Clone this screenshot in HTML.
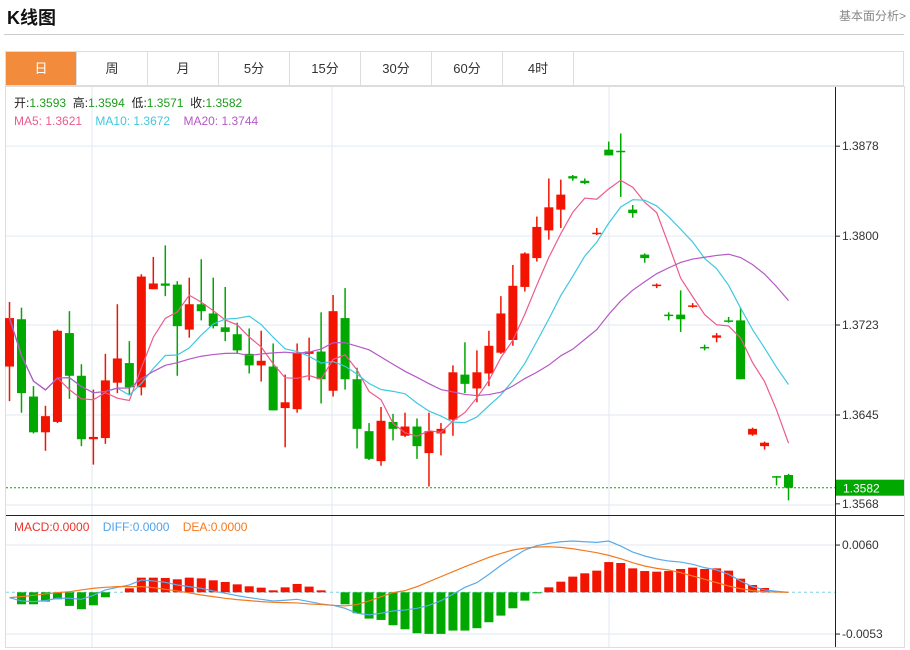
<!DOCTYPE html>
<html><head><meta charset="utf-8">
<style>
body{margin:0;background:#fff;width:910px;height:650px;overflow:hidden;font-family:"Liberation Sans","Noto Sans CJK SC",sans-serif;}
#title{position:absolute;left:7px;top:4px;font-size:18px;font-weight:bold;color:#111;}
#more{position:absolute;right:4px;top:7px;font-size:12px;color:#888;}
#hr{position:absolute;left:4px;right:6px;top:34px;height:1px;background:#ccc;}
#tabs{position:absolute;left:5px;top:51px;width:899px;height:35px;border:1px solid #ddd;box-sizing:border-box;display:flex;}
.tab{width:70px;height:33px;line-height:33px;text-align:center;font-size:13px;color:#333;border-right:1px solid #ddd;}
.tab.on{background:#f28c3c;color:#fff;}
svg{position:absolute;left:0;top:0;}
</style></head><body>
<div id="title">K线图</div>
<div id="more">基本面分析&gt;</div>
<div id="hr"></div>
<div id="tabs">
<div class="tab on">日</div>
<div class="tab">周</div>
<div class="tab">月</div>
<div class="tab">5分</div>
<div class="tab">15分</div>
<div class="tab">30分</div>
<div class="tab">60分</div>
<div class="tab">4时</div>
</div>
<svg id="chart" width="910" height="650"></svg>
<script>
const opens=[1.3687,1.3728,1.3661,1.3630,1.3639,1.3716,1.3679,1.3624,1.3625,1.3673,1.3690,1.3669,1.3754,1.3759,1.3758,1.3719,1.3741,1.3733,1.3721,1.3715,1.3698,1.3688,1.3687,1.3651,1.3650,1.3698,1.3700,1.3666,1.3729,1.3676,1.3631,1.3605,1.3639,1.3627,1.3635,1.3612,1.3629,1.3641,1.3680,1.3668,1.3681,1.3699,1.3710,1.3756,1.3781,1.3805,1.3823,1.3852,1.3848,1.3802,1.3875,1.3874,1.3823,1.3784,1.3757,1.3732,1.3732,1.3739,1.3704,1.3712,1.3727,1.3727,1.3628,1.3618,1.3592,1.3593];
const closes=[1.3729,1.3664,1.3630,1.3644,1.3718,1.3679,1.3624,1.3626,1.3675,1.3694,1.3669,1.3765,1.3759,1.3757,1.3722,1.3741,1.3735,1.3722,1.3717,1.3701,1.3688,1.3692,1.3649,1.3656,1.3699,1.3700,1.3676,1.3735,1.3676,1.3633,1.3607,1.3640,1.3633,1.3635,1.3618,1.3631,1.3633,1.3682,1.3672,1.3682,1.3705,1.3733,1.3757,1.3785,1.3808,1.3825,1.3836,1.3850,1.3846,1.3803,1.3870,1.3873,1.3820,1.3781,1.3758,1.3731,1.3728,1.3740,1.3703,1.3714,1.3726,1.3676,1.3633,1.3621,1.3591,1.3582];
const highs=[1.3743,1.3738,1.3670,1.3653,1.3719,1.3735,1.3689,1.3667,1.3698,1.3741,1.3709,1.3767,1.3782,1.3792,1.3761,1.3764,1.3780,1.3764,1.3756,1.3725,1.3720,1.3718,1.3707,1.3680,1.3707,1.3712,1.3734,1.3749,1.3755,1.3686,1.3638,1.3652,1.3646,1.3647,1.3642,1.3647,1.3638,1.3688,1.3708,1.3701,1.3718,1.3748,1.3775,1.3786,1.3817,1.3850,1.3849,1.3853,1.3850,1.3807,1.3882,1.3889,1.3827,1.3785,1.3759,1.3734,1.3753,1.3742,1.3706,1.3716,1.3730,1.3738,1.3634,1.3622,1.3592,1.3594];
const lows=[1.3657,1.3647,1.3629,1.3614,1.3638,1.3659,1.3618,1.3602,1.3620,1.3664,1.3662,1.3662,1.3754,1.3748,1.3679,1.3712,1.3727,1.3720,1.3709,1.3698,1.3681,1.3674,1.3649,1.3617,1.3647,1.3675,1.3655,1.3661,1.3667,1.3616,1.3606,1.3601,1.3623,1.3626,1.3607,1.3583,1.3610,1.3627,1.3664,1.3656,1.3670,1.3698,1.3705,1.3752,1.3778,1.3797,1.3807,1.3848,1.3845,1.3801,1.3870,1.3834,1.3816,1.3777,1.3755,1.3727,1.3717,1.3738,1.3701,1.3708,1.3725,1.3676,1.3627,1.3615,1.3584,1.3571];
// MACD panel values, in units of 0.0001
const macdHist=[0,-15.2,-15.2,-11.8,-8.9,-17.3,-21.5,-16.5,-6.3,0,5.1,18.6,18.6,18.2,16.5,18.6,17.7,15.2,13.1,10.1,7.6,5.9,2.5,6.3,10.6,7.2,2.5,0,-15.2,-26.6,-33.4,-35.1,-41.8,-46.9,-52.0,-52.8,-52.8,-48.6,-48.6,-45.6,-38.0,-29.6,-20.3,-10.6,-1.3,6.3,13.5,19.9,24.1,27.5,38.4,37.2,30.4,27.0,26.2,27.0,29.6,31.3,29.6,30.4,27.5,17.3,9.3,5.5,0.8,0];
const diffVals=[-6.8,-11.0,-11.8,-10.6,-7.6,-7.6,-8.9,-3.8,3.0,6.3,9.3,15.6,14.4,12.7,9.3,7.2,5.1,1.7,-1.3,-4.2,-6.8,-8.9,-11.0,-10.1,-8.9,-11.8,-14.8,-16.5,-20.3,-26.6,-28.7,-26.6,-23.7,-22.4,-20.3,-16.5,-10.6,-2.5,6.3,12.3,22.8,34.2,44.4,53.7,59.2,62.1,64.2,65.1,64.2,63.4,65.1,58.7,51.1,46.1,42.3,39.7,38.4,35.5,31.3,28.3,22.8,14.4,7.2,3.0,1.3,0];
const deaVals=[-6.8,-5.5,-3.8,-2.1,-0.4,0.8,3.0,5.1,6.3,7.2,7.2,7.2,5.9,3.8,1.7,-0.8,-3.4,-5.5,-7.6,-9.3,-10.6,-11.8,-12.7,-13.1,-13.5,-14.8,-15.6,-16.5,-17.3,-15.6,-11.0,-5.5,-0.4,2.1,7.2,13.5,19.9,26.2,32.5,38.4,44.4,49.4,53.7,56.2,57.5,57.9,57.0,55.3,52.8,50.3,46.9,42.7,37.6,33.4,30.4,28.3,24.9,20.7,16.5,12.3,8.0,4.6,2.1,0.8,0.4,0];
const priceTicks=[1.3878,1.3800,1.3723,1.3645,1.3568];
const macdTicks=[0.0060,-0.0053];
const gridX=[92,332,609];

const NS="http://www.w3.org/2000/svg";
const svg=document.getElementById('chart');
function mk(tag,attrs,parent){const e=document.createElementNS(NS,tag);for(const k in attrs)e.setAttribute(k,attrs[k]);(parent||svg).appendChild(e);return e;}
const X0=9.5,DX=11.985;
const xS=i=>X0+i*DX;
const yP=p=>415-(p-1.3645)*11538;
const yM=v=>592.3-v*7876;
const RED="#f21400",GRN="#00a800";

// frame
let fr=mk('rect',{x:5.5,y:86.5,width:899,height:561,fill:'none',stroke:'#ddd'});


// grids
const gg=mk('g',{});


gridX.forEach(x=>{mk('line',{x1:x,x2:x,y1:87,y2:647,stroke:'#e1e9f0'},gg);});
priceTicks.slice(0,4).forEach(p=>{mk('line',{x1:6,x2:835,y1:yP(p),y2:yP(p),stroke:'#e1e9f0'},gg);});
macdTicks.forEach(v=>{mk('line',{x1:6,x2:835,y1:yM(v),y2:yM(v),stroke:'#e1e9f0'},gg);});
mk('line',{x1:6,x2:835,y1:505,y2:505,stroke:'#e1e9f0'},gg);
// axes
let ax=mk('line',{x1:835.5,x2:835.5,y1:87,y2:647,stroke:'#222'});


let sep=mk('line',{x1:6,x2:904,y1:515.5,y2:515.5,stroke:'#222'});


priceTicks.forEach(p=>{
  mk('line',{x1:835,x2:840,y1:yP(p),y2:yP(p),stroke:'#222'});
  const t=mk('text',{x:842,y:yP(p)+4,'font-size':12,fill:'#333'});
  t.textContent=p.toFixed(4);
  
  
});
macdTicks.forEach(v=>{
  mk('line',{x1:835,x2:840,y1:yM(v),y2:yM(v),stroke:'#222'});
  const t=mk('text',{x:842,y:yM(v)+4,'font-size':12,fill:'#333'});
  t.textContent=v.toFixed(4);
  
  
});
// last price line
const last=closes[closes.length-1];
mk('line',{x1:6,x2:835,y1:yP(last),y2:yP(last),stroke:GRN,'stroke-dasharray':'2,2'});
const lb=mk('rect',{x:836,y:yP(last)-8,width:68,height:16,fill:GRN});


const lt=mk('text',{x:843,y:yP(last)+5,'font-size':12,fill:'#fff'});
lt.textContent=last.toFixed(4);

// candles
const cg=mk('g',{});


for(let i=0;i<closes.length;i++){
  const up=closes[i]>=opens[i];const c=up?RED:GRN;const x=xS(i);
  const g=mk('g',{},cg);
  
  
  mk('line',{x1:x,x2:x,y1:yP(highs[i]),y2:yP(lows[i]),stroke:c,'stroke-width':1.5},g);
  const t=yP(Math.max(opens[i],closes[i])),b=yP(Math.min(opens[i],closes[i]));
  mk('rect',{x:x-4.5,y:t,width:9,height:Math.max(1.5,b-t),fill:c},g);
}
// MAs
function ma(n){return closes.map((_,i)=>{const s=Math.max(0,i-n+1);let sum=0;for(let j=s;j<=i;j++)sum+=closes[j];return sum/(i-s+1);});}
[[5,'#ec5a8c','ma5-line'],[10,'#3fc8e0','ma10-line'],[20,'#b658c8','ma20-line']].forEach(([n,col,name])=>{
  const v=ma(n);
  const p=mk('polyline',{points:v.map((m,i)=>xS(i)+','+yP(m)).join(' '),fill:'none',stroke:col,'stroke-width':1.2});
  
  
});
// MACD
mk('line',{x1:6,x2:835,y1:yM(0),y2:yM(0),stroke:'#7fd0e0','stroke-dasharray':'3,3'});
const hg=mk('g',{});


macdHist.forEach((h,i)=>{
  const v=h/10000;if(Math.abs(v)<0.00001)return;
  const y0=yM(0),y1=yM(v);
  const r=mk('rect',{x:xS(i)-4.5,y:Math.min(y0,y1),width:9,height:Math.abs(y1-y0),fill:v>0?RED:GRN},hg);
  
  
});
[[diffVals,'#5aabec','diff-line'],[deaVals,'#f47a20','dea-line']].forEach(([arr,col,name])=>{
  const p=mk('polyline',{points:arr.map((v,i)=>xS(i)+','+yM(v/10000)).join(' '),fill:'none',stroke:col,'stroke-width':1.2});
  
  
});
// legends
function legend(y,parts,name){
  const t=mk('text',{x:14,y:y,'font-size':12});
  
  
  parts.forEach(([s,c])=>{const sp=mk('tspan',{fill:c},t);sp.textContent=s;});
}
legend(107,[['开:','#222'],['1.3593  ','#1a9e1a'],['高:','#222'],['1.3594  ','#1a9e1a'],['低:','#222'],['1.3571  ','#1a9e1a'],['收:','#222'],['1.3582','#1a9e1a']],'ohlc-legend');
legend(125,[['MA5: 1.3621    ','#ec5a8c'],['MA10: 1.3672    ','#3fc8e0'],['MA20: 1.3744','#b658c8']],'ma-legend');
legend(531,[['MACD:0.0000    ','#e8342a'],['DIFF:0.0000    ','#4ea3ea'],['DEA:0.0000','#f47a20']],'macd-legend');
svg.querySelectorAll('text').forEach(t=>t.setAttribute('xml:space','preserve'));
svg.querySelectorAll('text').forEach(t=>t.style.whiteSpace='pre');
</script>
</body></html>
